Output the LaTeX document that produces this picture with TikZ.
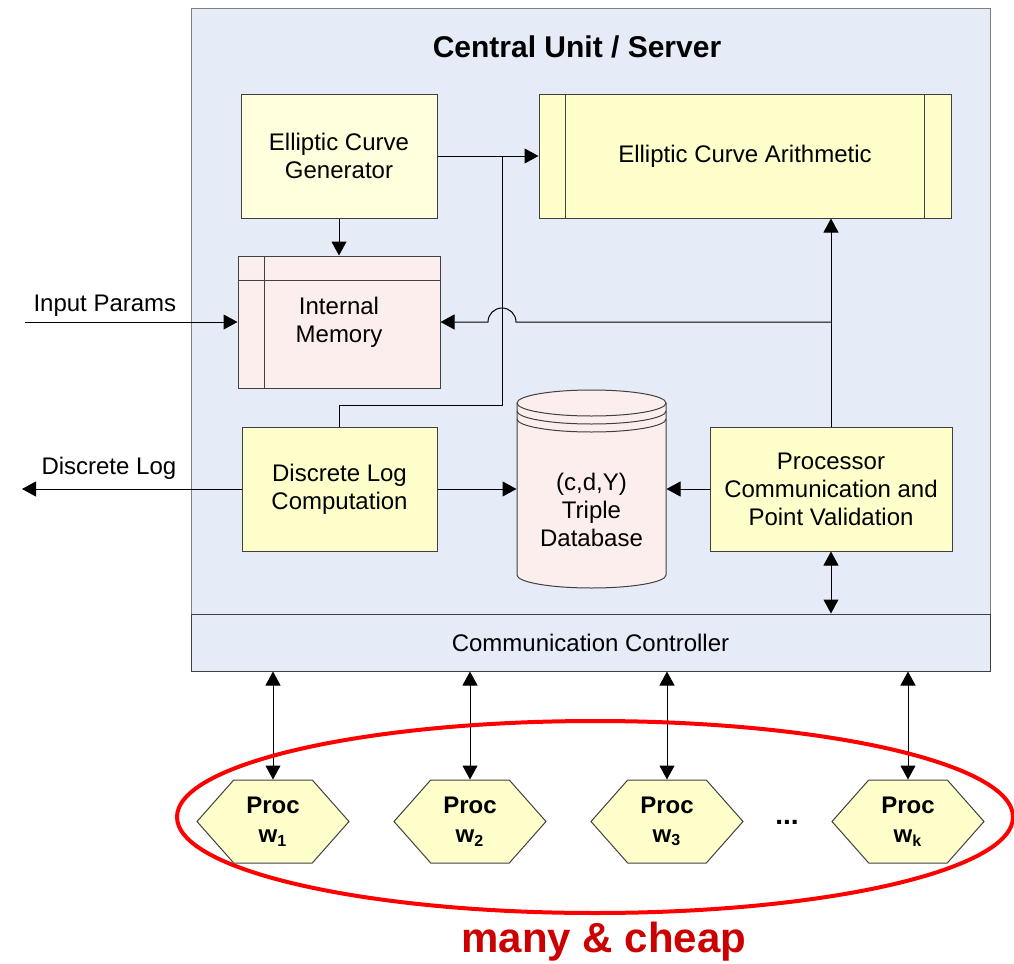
\documentclass[tikz,border=0pt]{standalone}
\usepackage{fontspec}
\setmainfont{Liberation Sans}
\usepackage{xcolor}
\usepackage{tikz}
\usetikzlibrary{arrows.meta}
\usetikzlibrary{shapes.symbols}
\definecolor{unitblue}{RGB}{229,236,247}
\definecolor{paleyellow}{RGB}{255,255,221}
\definecolor{boxyellow}{RGB}{255,255,204}
\definecolor{memrose}{RGB}{253,238,238}
\definecolor{edgegray}{RGB}{64,64,64}
\definecolor{cheapred}{RGB}{204,0,0}
\newcommand{\boxfont}{\fontsize{12}{14}\selectfont}

\begin{document}
\begin{tikzpicture}[x=0.5pt, y=-0.5pt, line width=0.5pt,
    block/.style={draw=edgegray, fill=boxyellow, align=center, inner sep=0pt, font=\boxfont},
    proc/.style={signal, signal to=west and east, signal pointer angle=97, draw=edgegray,
      fill=boxyellow, minimum width=76pt, minimum height=41.5pt, inner sep=0pt,
      align=center, font=\bfseries\fontsize{12}{14.5}\selectfont},
    arr/.style={-{Triangle[length=7pt, width=7.5pt]}},
    biarr/.style={{Triangle[length=7pt, width=7.5pt]}-{Triangle[length=7pt, width=7.5pt]}}]
    \useasboundingbox (0,0) rectangle (1014,964);
    % central unit
    \draw[draw=gray, fill=unitblue] (191,8) rectangle (990,671);
    \node[font=\bfseries\fontsize{15}{18}\selectfont] (title) at (577,47) {Central Unit / Server};
    \node[block, fill=unitblue, minimum width=399.5pt, minimum height=28.5pt] (comm) at (590.5,642.5)
      {Communication Controller};
    \node[block, fill=paleyellow, minimum width=98pt, minimum height=62pt] (ecg) at (339,156)
      {Elliptic Curve\\Generator};
    \node[block, minimum width=206pt, minimum height=62pt] (eca) at (745,156)
      {Elliptic Curve Arithmetic};
    \draw[edgegray] ([xshift=13.5pt]eca.north west) -- ([xshift=13.5pt]eca.south west);
    \draw[edgegray] ([xshift=-13.5pt]eca.north east) -- ([xshift=-13.5pt]eca.south east);
    \node[block, fill=memrose, minimum width=101pt, minimum height=66pt] (mem) at (339,322)
      {Internal\\Memory};
    \draw[edgegray] ([xshift=13.5pt]mem.north west) -- ([xshift=13.5pt]mem.south west);
    \draw[edgegray] ([yshift=-12.5pt]mem.north west) -- ([yshift=-12.5pt]mem.north east);
    \node[block, minimum width=97.5pt, minimum height=62pt] (dlc) at (339.5,489)
      {Discrete Log\\Computation};
    \node[block, minimum width=121pt, minimum height=62pt] (pcpv) at (831,489)
      {Processor\\Communication and\\Point Validation};
    % triple database
    \draw[draw=edgegray, fill=memrose] (517,403) -- (517,575)
      arc[start angle=180, end angle=0, x radius=74.5, y radius=13] -- (666,403)
      arc[start angle=0, end angle=-180, x radius=74.5, y radius=13] -- cycle;
    \foreach \dy in {0,8,16}{
      \draw[edgegray] (517,403+\dy) arc[start angle=180, end angle=0, x radius=74.5, y radius=13];
    }
    \node[align=center, inner sep=0pt, font=\boxfont, minimum width=74.5pt] (db) at (591.5,510)
      {(c,d,Y)\\Triple\\Database};
    % connections
    \coordinate (bus) at (502,156);
    \coordinate (inp) at (25,322);
    \coordinate (dlout) at (22,489);
    \draw[arr] (ecg.east) -- (eca.west);
    \draw[arr] (ecg.south) -- (mem.north);
    \draw (dlc.north) |- (502,405) -- (bus);
    \draw[arr] (pcpv.north) -- (eca.south -| pcpv.north);
    \draw[arr] (pcpv.north |- mem.east) -- (516,322)
      arc[start angle=0, end angle=180, radius=7pt] -- (mem.east);
    \draw[arr] (inp) -- (mem.west);
    \node[anchor=base west, font=\boxfont, inner sep=0pt] (inplabel) at (33,311) {Input Params};
    \draw[arr] (dlc.west) -- (dlout);
    \node[anchor=base west, font=\boxfont, inner sep=0pt] (dllabel) at (41,474) {Discrete Log};
    \draw[arr] (dlc.east) -- (dlc.east -| db.west);
    \draw[arr] (pcpv.west) -- (pcpv.west -| db.east);
    \draw[biarr] (pcpv.south) -- (pcpv.south |- comm.north);
    % workers
    \node[proc] (p1) at (273,821.5) {Proc\\w\textsubscript{1}};
    \node[proc] (p2) at (470,821.5) {Proc\\w\textsubscript{2}};
    \node[proc] (p3) at (667,821.5) {Proc\\w\textsubscript{3}};
    \node[proc] (pk) at (908,821.5) {Proc\\w\textsubscript{k}};
    \node[font=\bfseries\fontsize{14}{16}\selectfont] (dots) at (787,822) {...};
    \foreach \p in {p1,p2,p3,pk}{
      \draw[biarr] (\p.north) -- (\p.north |- comm.south);
    }
    \draw[red, line width=2pt] (595,817) ellipse[x radius=418, y radius=96];
    \node[text=cheapred, font=\bfseries\fontsize{21}{24}\selectfont] (cheap) at (604,942) {many \& cheap};
  \end{tikzpicture}
\end{document}
